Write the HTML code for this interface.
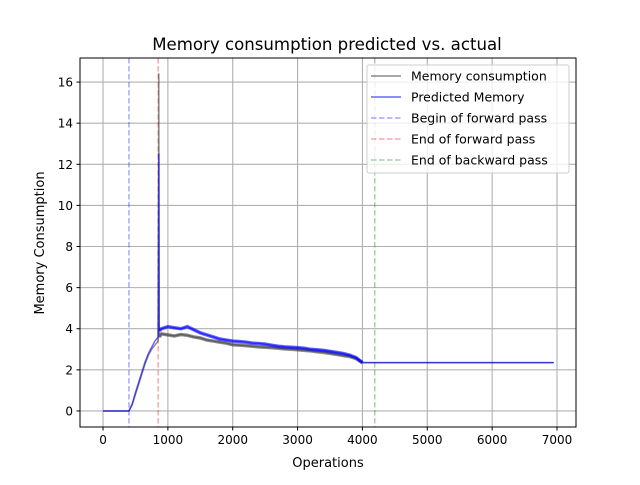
<!DOCTYPE html>
<html><head><meta charset="utf-8"><style>
body{margin:0;background:#fff}
svg text{font-family:"DejaVu Sans","Liberation Sans",sans-serif;fill:#000}
</style></head><body>
<svg id="chart" width="640" height="480" viewBox="0 0 640 480" xmlns="http://www.w3.org/2000/svg">
<rect width="640" height="480" fill="#fff"/>
<g id="grid"></g>
<g id="vlines"></g>
<g id="series"></g>
<rect x="80" y="58" width="496" height="369" fill="none" stroke="#000" stroke-width="1"/>
<g id="ticks"></g>
<text x="327" y="50" font-size="16.6" text-anchor="middle">Memory consumption predicted vs. actual</text>
<text x="328" y="467" font-size="13" text-anchor="middle">Operations</text>
<text x="44" y="243" font-size="13" text-anchor="middle" transform="rotate(-90 44 243)">Memory Consumption</text>
<g id="legend"></g>
</svg>
<script>
const xTicks=[0,1000,2000,3000,4000,5000,6000,7000];
const yTicks=[0,2,4,6,8,10,12,14,16];
const actualOps=[0,400,450,500,550,600,650,700,750,800,850,855,860,865,870,900,1000,1100,1200,1300,1400,1500,1600,1700,1800,1900,2000,2100,2200,2300,2400,2500,2600,2700,2800,2900,3000,3100,3200,3300,3400,3500,3600,3700,3800,3900,4000,6950];
const actualMem=[0,0,0.3,0.8,1.3,1.8,2.3,2.7,3.0,3.2,3.4,8,16.4,4,3.6,3.75,3.70,3.65,3.72,3.68,3.60,3.55,3.45,3.40,3.35,3.30,3.22,3.20,3.18,3.15,3.12,3.10,3.08,3.05,3.02,3.00,2.98,2.95,2.92,2.88,2.85,2.80,2.75,2.70,2.65,2.55,2.35,2.35];
const predOps=[0,400,450,500,550,600,650,700,750,800,850,855,860,865,870,900,1000,1100,1200,1300,1400,1500,1600,1700,1800,1900,2000,2100,2200,2300,2400,2500,2600,2700,2800,2900,3000,3100,3200,3300,3400,3500,3600,3700,3800,3900,4000,6950];
const predMem=[0,0,0.35,0.9,1.4,1.9,2.4,2.8,3.1,3.4,3.6,8,12.5,4.2,3.9,4.0,4.1,4.05,4.0,4.1,3.95,3.8,3.7,3.6,3.5,3.45,3.4,3.38,3.35,3.3,3.28,3.25,3.2,3.15,3.12,3.1,3.08,3.05,3.0,2.98,2.95,2.9,2.85,2.8,2.72,2.6,2.35,2.35];
const markerOps=[400,850,4190];
const markerColors=['#0000ff','#ff0000','#008000'];
const legendLabels=['Memory consumption','Predicted Memory','Begin of forward pass','End of forward pass','End of backward pass'];

const X0=80,X1=576,Y0=58,Y1=427,xmin=-355,xmax=7293,ymin=-0.78,ymax=17.17;
const sx=v=>X0+(v-xmin)/(xmax-xmin)*(X1-X0);
const sy=v=>Y1-(v-ymin)/(ymax-ymin)*(Y1-Y0);
const NS='http://www.w3.org/2000/svg';
function mk(tag,attrs,parent){const e=document.createElementNS(NS,tag);for(const k in attrs)e.setAttribute(k,attrs[k]);parent.appendChild(e);return e;}
const grid=document.getElementById('grid'),ticks=document.getElementById('ticks');
xTicks.forEach(t=>{const x=sx(t);
 const g=mk('line',{x1:x,x2:x,y1:Y0,y2:Y1,stroke:'#b0b0b0','stroke-width':1.1},grid);
 
 
 const tk=mk('line',{x1:x,x2:x,y1:Y1,y2:Y1+3.5,stroke:'#000','stroke-width':1},ticks);
 
 
 const tx=mk('text',{x:x,y:Y1+17,'font-size':12,'text-anchor':'middle'},ticks);tx.textContent=t;
 
 
});
yTicks.forEach(t=>{const y=sy(t);
 const g=mk('line',{x1:X0,x2:X1,y1:y,y2:y,stroke:'#b0b0b0','stroke-width':1.1},grid);
 
 
 const tk=mk('line',{x1:X0-3.5,x2:X0,y1:y,y2:y,stroke:'#000','stroke-width':1},ticks);
 
 
 const tx=mk('text',{x:X0-7,y:y+4.5,'font-size':12,'text-anchor':'end'},ticks);tx.textContent=t;
 
 
});
const vl=document.getElementById('vlines');
markerOps.forEach((m,i)=>{const x=sx(m);
 const l=mk('line',{x1:x,x2:x,y1:Y0,y2:Y1,stroke:markerColors[i],'stroke-opacity':0.35,'stroke-width':1.5,'stroke-dasharray':'5.5,2.5'},vl);
 
 
});
const ser=document.getElementById('series');
function draw(ops,mem,color,name){
 const pts=ops.map((o,i)=>sx(o)+','+sy(mem[i])).join(' ');
 const p=mk('polyline',{points:pts,fill:'none',stroke:color,'stroke-opacity':0.6,'stroke-width':1.5,'stroke-linejoin':'round'},ser);
 
 
 const band=ops.map((o,i)=>[o,mem[i]]).filter(d=>d[0]>=870&&d[0]<=4000);
 const b=mk('polyline',{points:band.map(d=>sx(d[0])+','+sy(d[1])).join(' '),fill:'none',stroke:color,'stroke-opacity':0.6,'stroke-width':3.5},ser);
 
 
}
draw(actualOps,actualMem,'#404040','actual-memory-line');
draw(predOps,predMem,'#0000ff','predicted-memory-line');
const lg=document.getElementById('legend');
const box=mk('rect',{x:367,y:65,width:202,height:108,rx:2,fill:'#fff','fill-opacity':0.8,stroke:'#cccccc','stroke-width':1},lg);


const lcol=['#404040','#0000ff','#0000ff','#ff0000','#008000'],lop=[0.6,0.6,0.35,0.35,0.35];
legendLabels.forEach((s,i)=>{const y=76+i*21;
 const h=mk('line',{x1:371,x2:401,y1:y,y2:y,stroke:lcol[i],'stroke-opacity':lop[i],'stroke-width':1.5,'stroke-dasharray':i<2?'none':'5.5,2.5'},lg);
 
 
 const t=mk('text',{x:411,y:y+4.5,'font-size':12.5},lg);t.textContent=s;
 
 
});
</script>
</body></html>
